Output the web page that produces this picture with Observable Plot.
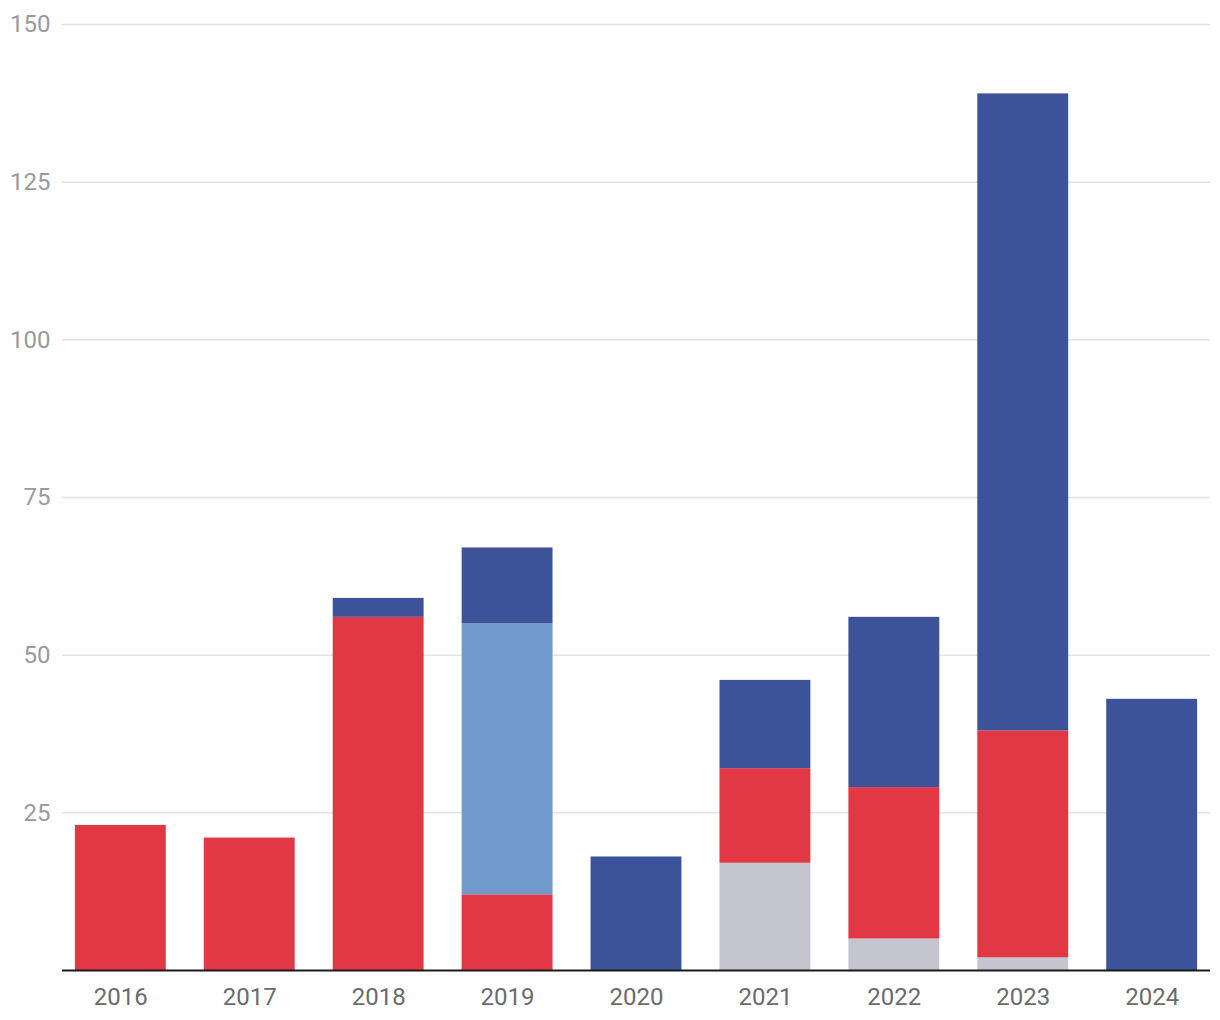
<!DOCTYPE html>
<html><head><meta charset="utf-8">
<script src="https://cdn.jsdelivr.net/npm/d3@7"></script>
<script src="https://cdn.jsdelivr.net/npm/@observablehq/plot@0.6"></script>
<style>html,body{margin:0;padding:0;background:#fff;font-family:Roboto,sans-serif}</style>
</head><body><div id="chart"></div>
<script>
const years = ["2016","2017","2018","2019","2020","2021","2022","2023","2024"];
const seriesNames = ["Gray","Red","Light blue","Dark blue"];
const grayValues = [0,0,0,0,0,17,5,2,0];
const redValues = [23,21,56,12,0,15,24,36,0];
const lightBlueValues = [0,0,0,43,0,0,0,0,0];
const darkBlueValues = [0,0,3,12,18,14,27,101,43];
const seriesColors = ["#c4c5ce","#e23846","#6f9acb","#3d5399"];
const yTicks = [25,50,75,100,125,150];

const seriesValues = [grayValues, redValues, lightBlueValues, darkBlueValues];
const data = [];
seriesNames.forEach((s, i) => years.forEach((y, j) => {
  if (seriesValues[i][j] > 0) data.push({year: y, series: s, value: seriesValues[i][j]});
}));

const chart = Plot.plot({
  width: 1220,
  height: 1020,
  marginLeft: 62,
  marginRight: 10,
  marginTop: 24,
  marginBottom: 50,
  style: {fontFamily: "Roboto, sans-serif", background: "#fff"},
  x: {domain: years, paddingInner: 0.295, paddingOuter: 0.1, round: false, label: null},
  y: {domain: [0, 150], label: null},
  color: {domain: seriesNames, range: seriesColors},
  marks: [
    Plot.ruleY(yTicks, {stroke: "#e3e3e3", strokeWidth: 1.5}),
    Plot.barY(data, {x: "year", y: "value", fill: "series", order: seriesNames}),
    Plot.ruleY([0], {stroke: "#1a1a1a", strokeWidth: 2}),
    Plot.axisY({ticks: yTicks, tickSize: 0, tickPadding: 12, fontSize: 24, color: "#9a9a9a", label: null}),
    Plot.axisX({tickSize: 0, tickPadding: 17, fontSize: 24, color: "#6b6b6b", label: null})
  ]
});
document.getElementById("chart").appendChild(chart);
</script>
</body></html>
